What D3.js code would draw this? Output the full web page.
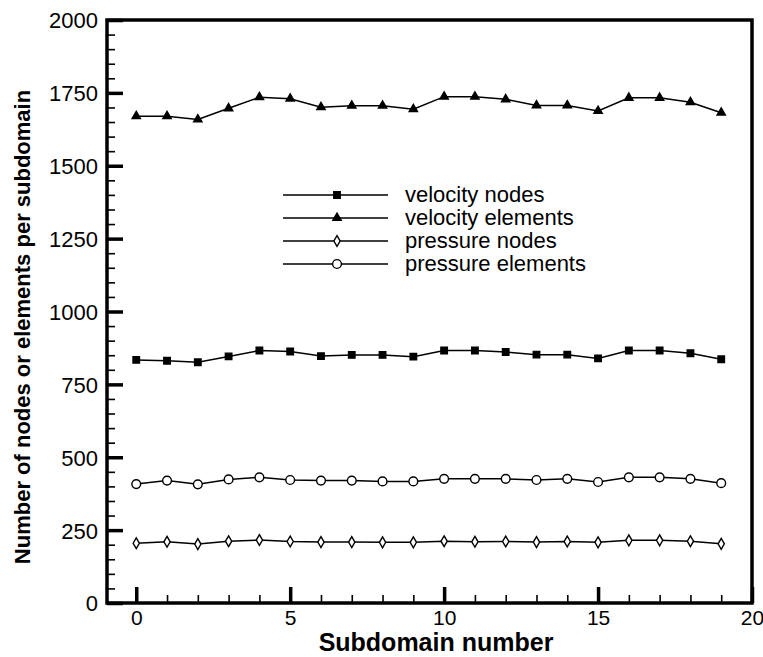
<!DOCTYPE html>
<html>
<head>
<meta charset="utf-8">
<script src="https://cdn.jsdelivr.net/npm/d3@7"></script>
<style>
  body { margin: 0; background: #fff; }
  text { font-family: "Liberation Sans", Arial, Helvetica, sans-serif; fill: #000; }
</style>
</head>
<body>
<svg id="chart" width="763" height="657"></svg>
<script>
// data
var subdomains = d3.range(0, 20);
var velocityNodes = [834, 831, 826, 846, 866, 863, 847, 851, 851, 845, 866, 866, 861, 852, 852, 839, 866, 866, 857, 836];
var velocityElements = [1670, 1670, 1659, 1697, 1735, 1730, 1701, 1706, 1706, 1694, 1737, 1737, 1728, 1707, 1707, 1688, 1733, 1733, 1718, 1682];
var pressureNodes = [205, 210, 202, 212, 216, 211, 209, 209, 208, 208, 212, 210, 211, 209, 211, 208, 215, 215, 212, 203];
var pressureElements = [408, 420, 407, 424, 431, 422, 420, 420, 417, 417, 426, 426, 426, 422, 426, 415, 431, 431, 426, 411];
var seriesNames = ["velocity nodes", "velocity elements", "pressure nodes", "pressure elements"];
var xMajorTicks = [0, 5, 10, 15, 20];
var yMajorTicks = [0, 250, 500, 750, 1000, 1250, 1500, 1750, 2000];

var svg = d3.select("#chart");

// plot area
var margin_l = 107, margin_r = 11, margin_t = 20, margin_b = 54;
var W = 763, H = 657;

var xScale = d3.scaleLinear().domain([-0.95, 20]).range([margin_l, W - margin_r]);
var yScale = d3.scaleLinear().domain([0, 2000]).range([H - margin_b, margin_t]);

// minor ticks
svg.append("g")
  .attr("transform", "translate(" + margin_l + ",0)")
  .call(d3.axisLeft(yScale).tickValues(d3.range(0, 2001, 50)).tickSizeInner(-8).tickSizeOuter(0).tickFormat(""))
  .call(function(g) { g.select(".domain").remove(); g.selectAll("line").attr("stroke-width", 1.6); });

svg.append("g")
  .attr("transform", "translate(0," + (H - margin_b) + ")")
  .call(d3.axisBottom(xScale).tickValues(d3.range(0, 21, 1)).tickSizeInner(-8).tickSizeOuter(0).tickFormat(""))
  .call(function(g) { g.select(".domain").remove(); g.selectAll("line").attr("stroke-width", 1.6); });

// major ticks + labels
svg.append("g")
  .attr("transform", "translate(" + margin_l + ",0)")
  .call(d3.axisLeft(yScale).tickValues(yMajorTicks).tickSizeInner(-16).tickSizeOuter(0).tickPadding(9).tickFormat(d3.format("d")))
  .call(function(g) {
    g.select(".domain").remove();
    g.selectAll("line").attr("stroke-width", 3.5);
    g.selectAll("text").style("font-size", "22px").attr("dy", "0.36em");
  });

svg.append("g")
  .attr("transform", "translate(0," + (H - margin_b) + ")")
  .call(d3.axisBottom(xScale).tickValues(xMajorTicks).tickSizeInner(-16).tickSizeOuter(0).tickPadding(7).tickFormat(d3.format("d")))
  .call(function(g) {
    g.select(".domain").remove();
    g.selectAll("line").attr("stroke-width", 3.5);
    g.selectAll("text").style("font-size", "21px");
  });

// frame
svg.append("rect")
  .attr("x", margin_l).attr("y", margin_t)
  .attr("width", W - margin_r - margin_l).attr("height", H - margin_b - margin_t)
  .attr("fill", "none").attr("stroke", "#000").attr("stroke-width", 3.5);

// axis titles
svg.append("text")
  .attr("x", 436)
  .attr("y", H - 6)
  .style("text-anchor", "middle")
  .style("font-size", "25px")
  .style("font-weight", "bold")
  .text("Subdomain number");

svg.append("text")
  .attr("transform", "translate(30," + 327 + ") rotate(-90)")
  .style("text-anchor", "middle")
  .style("font-size", "22px")
  .style("font-weight", "bold")
  .text("Number of nodes or elements per subdomain");

// markers
var sym = {
  "velocity nodes": { type: d3.symbolSquare, size: 42, fill: "#000" },
  "velocity elements": { type: d3.symbolTriangle, size: 30, fill: "#000" },
  "pressure nodes": { type: d3.symbolDiamond, size: 34, fill: "#fff" },
  "pressure elements": { type: d3.symbolCircle, size: 60, fill: "#fff" }
};

var seriesData = [velocityNodes, velocityElements, pressureNodes, pressureElements];

var line = d3.line()
  .x(function(d, i) { return xScale(subdomains[i]); })
  .y(function(d) { return yScale(d); });

seriesData.forEach(function(vals, k) {
  var s = sym[seriesNames[k]];
  svg.append("path")
    .datum(vals)
    .attr("d", line)
    .attr("fill", "none")
    .attr("stroke", "#000")
    .attr("stroke-width", 1.5);

  svg.selectAll(".m" + k)
    .data(vals)
    .enter().append("path")
    .attr("class", "m" + k)
    .attr("transform", function(d, i) { return "translate(" + xScale(subdomains[i]) + "," + yScale(d) + ")"; })
    .attr("d", d3.symbol().type(s.type).size(s.size))
    .attr("fill", s.fill)
    .attr("stroke", "#000")
    .attr("stroke-width", 1.4);
});

// legend
var legend = svg.append("g");
seriesNames.forEach(function(name, k) {
  var yy = 195 + k * 23;
  var s = sym[name];
  legend.append("line")
    .attr("x1", 283).attr("x2", 388).attr("y1", yy).attr("y2", yy)
    .attr("stroke", "#000").attr("stroke-width", 1.5);
  legend.append("path")
    .attr("transform", "translate(337," + yy + ")")
    .attr("d", d3.symbol().type(s.type).size(s.size))
    .attr("fill", s.fill)
    .attr("stroke", "#000")
    .attr("stroke-width", 1.4);
  legend.append("text")
    .attr("x", 405).attr("y", yy + 7)
    .style("font-size", "22px")
    .text(name);
});
</script>
</body>
</html>
